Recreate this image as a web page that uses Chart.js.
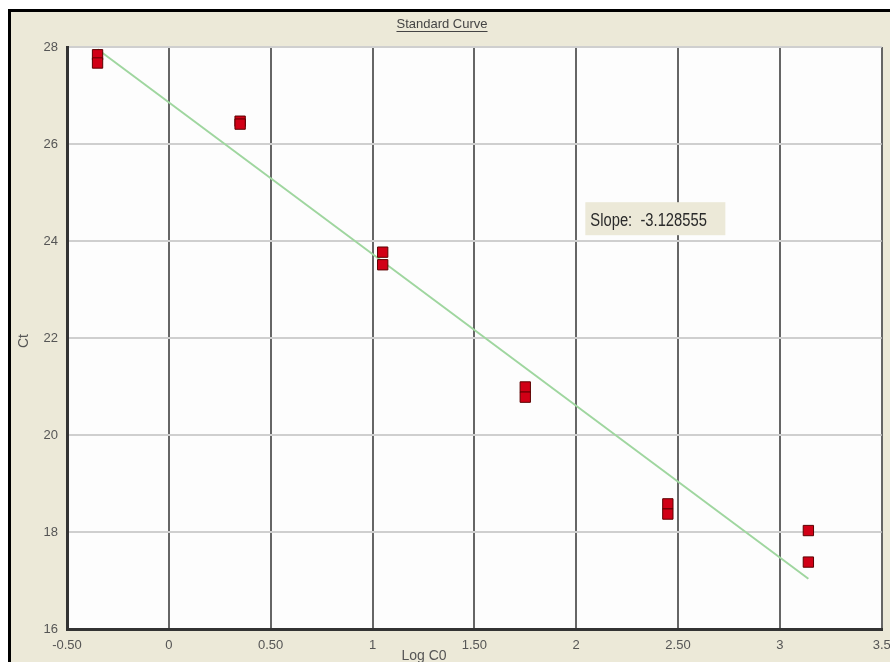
<!DOCTYPE html>
<html>
<head>
<meta charset="utf-8">
<title>Standard Curve</title>
<script src="https://cdn.jsdelivr.net/npm/chart.js@4/dist/chart.umd.min.js"></script>
<style>
  html, body { margin: 0; padding: 0; background: #fff; }
  #wrap { width: 890px; height: 662px; position: relative; }
</style>
</head>
<body>
<div id="wrap"><canvas id="c"></canvas></div>
<script>
// Standard curve: Ct against log of starting quantity
const logC0 = [-0.35, -0.35, 0.35, 0.35, 1.05, 1.05, 1.75, 1.75, 2.45, 2.45, 3.14, 3.14];
const ctValues = [27.84, 27.67, 26.47, 26.41, 23.77, 23.51, 20.99, 20.78, 18.58, 18.37, 18.03, 17.38];

// Regression line
const slope = -3.128555;
const intercept = 26.86;
const fitRange = [-0.35, 3.14];

const xTickLabels = ['-0.50', '0', '0.50', '1', '1.50', '2', '2.50', '3', '3.5'];
const yTickValues = [16, 18, 20, 22, 24, 26, 28];

const chartTitle = 'Standard Curve';
const xTitle = 'Log C0';
const yTitle = 'Ct';
const slopeLabel = 'Slope:  ' + slope.toFixed(6);
const slopeBoxAt = [2.045, 24.8];

const fitPoints = fitRange.map(x => ({ x: x, y: slope * x + intercept }));
const samplePoints = logC0.map((x, i) => ({ x: x, y: ctValues[i] }));

const BEIGE = '#ECE9D8';
const TEXT = '#555';

const framePlugin = {
  id: 'frame',
  beforeDraw(chart) {
    const { ctx, width, height, chartArea: a } = chart;
    ctx.save();
    ctx.fillStyle = '#fff';
    ctx.fillRect(0, 0, width, height);
    ctx.fillStyle = BEIGE;
    ctx.fillRect(10, 11, width - 10, height - 11);
    ctx.fillStyle = '#000';
    ctx.fillRect(8, 9, 3, height - 9);
    ctx.fillRect(8, 9, width - 8, 3);
    ctx.fillStyle = '#fdfdfd';
    ctx.fillRect(a.left, a.top, a.width, a.height);
    ctx.restore();
  },
  afterDraw(chart) {
    const { ctx } = chart;
    const xs = chart.scales.x, ys = chart.scales.y;
    ctx.save();
    // chart title, underlined
    ctx.font = '13px "Liberation Sans", Arial, sans-serif';
    ctx.fillStyle = '#444';
    ctx.textAlign = 'center';
    ctx.textBaseline = 'middle';
    ctx.fillText(chartTitle, 442, 24);
    const tw = ctx.measureText(chartTitle).width;
    ctx.fillRect(442 - tw / 2, 31, tw, 1);
    // axis titles
    ctx.font = '14px "Liberation Sans", Arial, sans-serif';
    ctx.fillStyle = TEXT;
    ctx.fillText(xTitle, 424, 656);
    ctx.translate(24, 341);
    ctx.rotate(-Math.PI / 2);
    ctx.fillText(yTitle, 0, 0);
    ctx.restore();

    // slope annotation box, condensed lettering
    ctx.save();
    const bx = xs.getPixelForValue(slopeBoxAt[0]);
    const by = ys.getPixelForValue(slopeBoxAt[1]);
    ctx.fillStyle = BEIGE;
    ctx.fillRect(bx, by, 140, 33);
    ctx.font = '18px "Liberation Sans", Arial, sans-serif';
    ctx.fillStyle = '#2a2a2a';
    ctx.textAlign = 'left';
    ctx.textBaseline = 'alphabetic';
    ctx.translate(bx + 5, by + 24);
    ctx.scale(0.82, 1);
    ctx.fillText(slopeLabel, 0, 0);
    ctx.restore();
  }
};

new Chart(document.getElementById('c'), {
  type: 'scatter',
  data: {
    datasets: [
      {
        label: 'Fit',
        type: 'line',
        data: fitPoints,
        borderColor: '#9fd69f',
        borderWidth: 2,
        pointRadius: 0,
        fill: false,
        order: 2
      },
      {
        label: 'Samples',
        data: samplePoints,
        pointStyle: 'rect',
        pointRadius: 7.3,
        pointHoverRadius: 7.3,
        backgroundColor: '#d10016',
        borderColor: '#5c0000',
        borderWidth: 1,
        order: 1
      }
    ]
  },
  options: {
    responsive: true,
    maintainAspectRatio: false,
    animation: false,
    layout: { padding: { top: 47, right: 7, left: 0, bottom: 0 } },
    plugins: {
      legend: { display: false },
      title: { display: false },
      tooltip: { enabled: false }
    },
    scales: {
      x: {
        type: 'linear',
        min: -0.5,
        max: 3.5,
        afterBuildTicks(s) {
          s.ticks = xTickLabels.map((_, i) => ({ value: -0.5 + i * 0.5 }));
        },
        ticks: {
          autoSkip: false,
          maxRotation: 0,
          padding: 9,
          color: TEXT,
          font: { family: '"Liberation Sans", Arial, sans-serif', size: 13 },
          callback: (v, i) => xTickLabels[i]
        },
        grid: { color: '#666', lineWidth: 2, drawTicks: false },
        border: { display: true, color: '#333', width: 3 },
        afterFit(s) {
          s.height = 33;
          s.paddingLeft = 0;
          s.paddingRight = 0;
        }
      },
      y: {
        type: 'linear',
        min: 16,
        max: 28,
        afterBuildTicks(s) {
          s.ticks = yTickValues.map(v => ({ value: v }));
        },
        ticks: {
          padding: 9,
          color: TEXT,
          font: { family: '"Liberation Sans", Arial, sans-serif', size: 13 },
          callback: v => String(v)
        },
        grid: { color: '#cfcfcf', lineWidth: 2, drawTicks: false },
        border: { display: true, color: '#333', width: 3 },
        afterFit(s) {
          s.width = 67;
          s.paddingTop = 0;
          s.paddingBottom = 0;
        }
      }
    }
  },
  plugins: [framePlugin]
});
</script>
</body>
</html>
